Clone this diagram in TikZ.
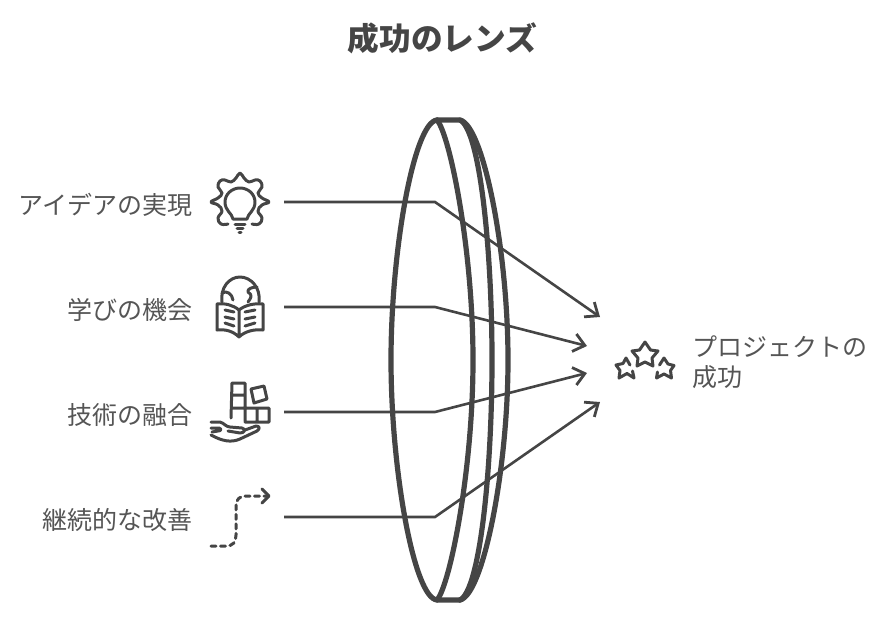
\documentclass[tikz,border=0pt]{standalone}
\usepackage{fontspec}
\setmainfont{Noto Sans CJK JP}
\usetikzlibrary{arrows.meta}
\definecolor{ink}{HTML}{454545}
\definecolor{lab}{HTML}{555555}
\tikzset{
 x=1pt,y=-1pt,
 lens/.style={draw=ink,line width=5.2pt,line cap=round,line join=round},
 conn/.style={draw=ink,line width=2.6pt,-{Straight Barb[length=11pt,width=18pt,line width=2.8pt]}},
 icon/.style={draw=ink,line width=3pt,line cap=round,line join=round},
 lbl/.style={text=lab,font=\fontsize{25}{30}\selectfont,inner sep=0pt},
 ttl/.style={text=ink,font=\fontsize{31.7}{36}\selectfont\bfseries,inner sep=0pt}
}
\begin{document}
\begin{tikzpicture}
\useasboundingbox (0,0) rectangle (885,618);
\node[ttl] (title) at (442.5,38) {成功のレンズ};
% lens
\draw[lens] (437,120) .. controls (414,122) and (391,250) .. (391,360) .. controls (391,470) and (414,598) .. (437,600) -- (460,600);
\draw[lens] (437,120) .. controls (450,135) and (473,250) .. (473,360) .. controls (473,470) and (450,585) .. (437,600);
\draw[lens] (437,120) -- (460,120) .. controls (480,130) and (492,250) .. (492,360) .. controls (492,470) and (480,590) .. (460,600);
\draw[lens] (460,120) .. controls (483,125) and (508,250) .. (508,360) .. controls (508,470) and (483,595) .. (460,600);
% labels
\node[lbl,anchor=east] (l1) at (192.5,205) {アイデアの実現};
\node[lbl,anchor=east] (l2) at (192.5,310) {学びの機会};
\node[lbl,anchor=east] (l3) at (192.5,415) {技術の融合};
\node[lbl,anchor=east] (l4) at (192.5,520) {継続的な改善};
\node[lbl,anchor=west,align=left] (l5) at (692,362) {プロジェクトの\\成功};
% connectors
\coordinate (s1) at (284,202); \coordinate (b1) at (435,202); \coordinate (e1) at (600,317);
\coordinate (s2) at (284,307); \coordinate (b2) at (435,307); \coordinate (e2) at (587,346);
\coordinate (s3) at (284,412); \coordinate (b3) at (435,412); \coordinate (e3) at (587,373);
\coordinate (s4) at (284,517); \coordinate (b4) at (435,517); \coordinate (e4) at (600,402);
\draw[conn] (s1) -- (b1) -- (e1);
\draw[conn] (s2) -- (b2) -- (e2);
\draw[conn] (s3) -- (b3) -- (e3);
\draw[conn] (s4) -- (b4) -- (e4);
% bulb icon
\draw[icon] plot[smooth,tension=0.75] coordinates {(252,224) (259,224) (262,218) (258,211) (262,205) (269,202) (262,198) (258,193) (262,187) (260,181) (255,180) (249,182) (244,178) (240,173) (236,178) (231,182) (225,180) (220,181) (218,187) (222,193) (218,198) (211,202) (218,205) (222,211) (218,218) (221,224) (228,224)};
\draw[icon] (233,219) .. controls (232,213) and (225,211) .. (225,202) .. controls (225,194) and (232,188) .. (240,188) .. controls (248,188) and (255,194) .. (255,202) .. controls (255,211) and (248,213) .. (247,219) -- cycle;
\draw[icon] (235,224) -- (245,224) (237,228) -- (243,228) (239,232) -- (241,232);
% book icon
\draw[icon] (239,310) .. controls (233,305) and (225,303) .. (217,304) -- (217,330) .. controls (225,329) and (233,331) .. (239,337) .. controls (245,331) and (255,329) .. (263,330) -- (263,304) .. controls (255,303) and (245,305) .. (239,310) -- (239,337);
\draw[icon] (225,310) -- (234,312) (225,317) -- (234,319) (225,323) -- (234,326)
 (245,312) -- (255,310) (245,319) -- (255,317) (245,326) -- (255,323);
\draw[icon] (222,302) .. controls (220,288) and (229,277) .. (240,277) .. controls (251,277) and (261,288) .. (259,302);
\draw[icon] (222,293) .. controls (227,290) and (232,294) .. (233,300);
\draw[icon] (257,287) .. controls (252,287) and (247,289) .. (248,292) .. controls (253,295) and (251,298) .. (248,302);
% blocks & hand
\draw[icon] (231,418) -- (232,383) -- (245,383) -- (245,421) (232,395) -- (245,395) (232,408) -- (269,408) -- (269,422) -- (245,422) (257,408) -- (257,422);
\draw[icon] (251,389) -- (264,386) -- (267,399) -- (254,403) -- cycle;
\draw[icon] (211,422) -- (220,422) .. controls (224,423) and (226,427) .. (230,427) -- (242,428) .. controls (246,429) and (245,433) .. (240,433) -- (228,431);
\draw[icon] (245,430) -- (256,426) .. controls (260,426) and (260,429) .. (257,431) -- (240,439) .. controls (231,443) and (222,441) .. (211,435);
\draw[icon] (211,428) -- (219,428) .. controls (222,429) and (221,431) .. (218,431) -- (212,432);
% dashed arrow icon
\draw[icon,dash pattern=on 5pt off 4.5pt] (211,546) -- (226,546) .. controls (233,546) and (236,542) .. (236,535) -- (236,506) .. controls (236,499) and (240,496) .. (246,496) -- (268,496);
\draw[icon] (262,489) -- (269,496) -- (262,503);
% stars
\draw[icon] (645,342) -- (650.5,350) -- (658,351) -- (652,358) -- (653,366) -- (645,362) -- (637,366) -- (638,358) -- (632,351) -- (639.5,350) -- cycle;
\draw[icon] (630,365) -- (626,358) -- (623,363.5) -- (616,365) -- (620,370.5) -- (619,378) -- (627,373.5) -- (634,378) -- (632.5,371);
\draw[icon] (659.5,365) -- (664,358) -- (668,364) -- (674,365.5) -- (670.5,370.5) -- (671.5,378) -- (664,374) -- (656.5,378) -- (657.5,372);
\end{tikzpicture}
\end{document}
